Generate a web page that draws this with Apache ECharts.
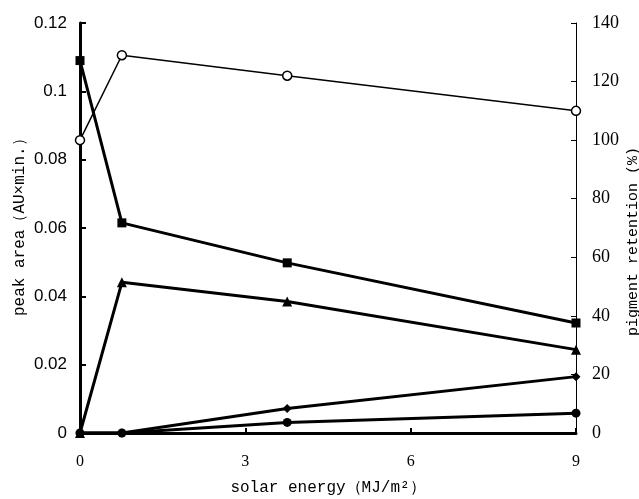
<!DOCTYPE html>
<html>
<head>
<meta charset="utf-8">
<script src="https://cdn.jsdelivr.net/npm/echarts@6/dist/echarts.min.js"></script>
<style>
  html, body { margin: 0; padding: 0; background: #fff; }
  #main { width: 639px; height: 499px; }
</style>
</head>
<body>
<div id="main"></div>
<script>
// values
var energy = [0, 0.76, 3.76, 9];
var retention = [100, 129, 122, 110];          // open circles, right axis (%)
var squareArea = [0.109, 0.0615, 0.0498, 0.0322];
var triangleArea = [0, 0.0441, 0.0385, 0.0244];
var diamondArea = [0, 0, 0.0072, 0.0165];
var dotArea = [0, 0, 0.0031, 0.0058];

var xTicks = [0, 3, 6, 9];

function pairs(ys)
{
    var out = [];
    for (var i = 0; i < energy.length; i++) {
        out.push([energy[i], ys[i]]);
    }
    return out;
}

function thickSeries(name, symbol, ys)
{
    return {
        name: name,
        type: 'line',
        yAxisIndex: 0,
        symbol: symbol,
        symbolSize: symbol == 'triangle' ? 10 : 9,
        lineStyle: { color: '#000', width: 3 },
        itemStyle: { color: '#000' },
        data: pairs(ys),
        z: 3
    };
}

var myChart = echarts.init(document.getElementById('main'));

var option = {
    animation: false,
    backgroundColor: '#fff',
    grid: { left: 80, right: 63, top: 23, bottom: 66, outerBoundsMode: 'none', containLabel: false },
    xAxis: {
        type: 'value',
        min: 0,
        max: 9,
        interval: 3,
        name: 'solar energy（MJ/m²）',
        nameLocation: 'middle',
        nameGap: 47,
        nameMoveOverlap: false,
        nameTextStyle: { fontFamily: 'Liberation Mono', fontSize: 16, color: '#000' },
        axisLine: { show: true, onZero: false, lineStyle: { color: '#000', width: 3 } },
        axisTick: { show: true, inside: true, length: 5, lineStyle: { color: '#000', width: 2 } },
        axisLabel: {
            margin: 21,
            fontFamily: 'Liberation Serif',
            fontSize: 16,
            color: '#000',
            formatter: function (v) { return xTicks.indexOf(v) >= 0 ? String(v) : ''; }
        },
        splitLine: { show: false }
    },
    yAxis: [
        {
            type: 'value',
            min: 0,
            max: 0.12,
            interval: 0.02,
            position: 'left',
            name: ' peak area（AU×min.）',
            nameLocation: 'middle',
            nameRotate: 90,
            nameGap: 52,
            nameMoveOverlap: false,
            nameTextStyle: { fontFamily: 'Liberation Mono', fontSize: 16, color: '#000' },
            axisLine: { show: true, lineStyle: { color: '#000', width: 3 } },
            axisTick: { show: true, inside: true, length: 6, lineStyle: { color: '#000', width: 2 } },
            axisLabel: {
                margin: 13,
                fontFamily: 'Liberation Sans',
                fontSize: 17,
                color: '#000',
                formatter: function (v) { return String(Math.round(v * 100) / 100); }
            },
            splitLine: { show: false }
        },
        {
            type: 'value',
            min: 0,
            max: 140,
            interval: 20,
            position: 'right',
            name: 'pigment retention (%)   ',
            nameLocation: 'middle',
            nameRotate: 90,
            nameGap: 50,
            nameMoveOverlap: false,
            nameTextStyle: { fontFamily: 'Liberation Mono', fontSize: 15, color: '#000' },
            axisLine: { show: true, lineStyle: { color: '#000', width: 1 } },
            axisTick: { show: true, inside: true, length: 5, lineStyle: { color: '#000', width: 1 } },
            axisLabel: {
                margin: 16,
                fontFamily: 'Liberation Serif',
                fontSize: 18,
                color: '#000'
            },
            splitLine: { show: false }
        }
    ],
    series: [
        {
            name: 'retention',
            type: 'line',
            yAxisIndex: 1,
            symbol: 'circle',
            symbolSize: 9,
            lineStyle: { color: '#000', width: 1.5 },
            itemStyle: { color: '#fff', borderColor: '#000', borderWidth: 1.5 },
            data: pairs(retention),
            z: 4
        },
        thickSeries('square', 'rect', squareArea),
        thickSeries('triangle', 'triangle', triangleArea),
        thickSeries('diamond', 'diamond', diamondArea),
        thickSeries('dot', 'circle', dotArea)
    ]
};

myChart.setOption(option);
</script>
</body>
</html>
